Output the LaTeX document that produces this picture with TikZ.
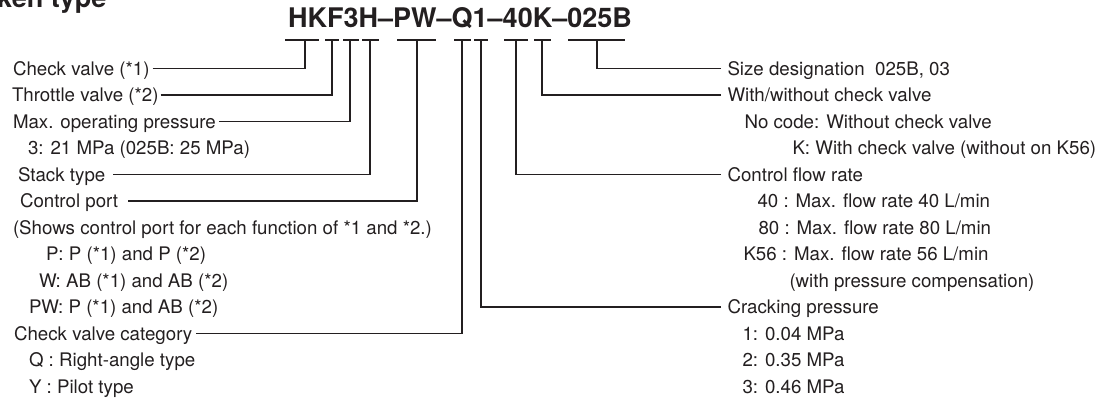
\documentclass[tikz,border=0pt]{standalone}
\usepackage{fontspec}
\setmainfont{TeX Gyre Heros}
\definecolor{ink}{HTML}{231F20}
\begin{document}
\begin{tikzpicture}[x=1bp,y=-1bp,
  every node/.style={text=ink},
  lbl/.style={anchor=west,inner sep=0pt,outer xsep=3bp,text height=13.4bp,text depth=0pt,
              font=\fontsize{18.7bp}{21bp}\selectfont},
  rlbl/.style={lbl,outer xsep=6.5bp},
  code/.style={anchor=base west,inner sep=0pt,font=\bfseries\fontsize{27bp}{27bp}\selectfont},
  uline/.style={draw=ink,line width=1.1bp},
  conn/.style={draw=ink,line width=1.1bp}]
\useasboundingbox (0,0) rectangle (1113,401);
% cropped heading
\node[code] (head) at (-3,7) {ken type};
% model code
\node[code] (model) at (288,27) {HKF3H\textendash PW\textendash Q1\textendash 40K\textendash 025B};
% underlines
\draw[uline] (285,40) -- (319,40);
\draw[uline] (325,40) -- (339,40);
\draw[uline] (343,40) -- (359,40);
\draw[uline] (362,40) -- (379,40);
\draw[uline] (397,40) -- (436,40);
\draw[uline] (454,40) -- (471,40);
\draw[uline] (474,40) -- (488,40);
\draw[uline] (504,40) -- (528,40);
\draw[uline] (534,40) -- (551,40);
\draw[uline] (568,40) -- (625,40);
\coordinate (vHK) at (305,40);
\coordinate (vF) at (332,40);
\coordinate (v3) at (350,40);
\coordinate (vH) at (370,40);
\coordinate (vPW) at (417,40);
\coordinate (vQ) at (462,40);
\coordinate (v1) at (481,40);
\coordinate (v40) at (516,40);
\coordinate (vK) at (542,40);
\coordinate (v025) at (597,40);
% left column
\node[lbl] (l0) at (10,68.5) {Check valve (*1)};
\node[lbl,outer xsep=2bp] (l1) at (10,95) {Throttle valve (*2)};
\node[lbl] (l2) at (10,121.5) {Max. operating pressure};
\node[lbl] (l3) at (25,148) {3: 21 MPa (025B: 25 MPa)};
\node[lbl,outer xsep=8bp] (l4) at (10,174.5) {Stack type};
\node[lbl,outer xsep=10bp] (l5) at (10,201) {Control port};
\node[lbl] (l6) at (10,227.5) {(Shows control port for each function of *1 and *2.)};
\node[lbl] (l7) at (43,254) {P: P (*1) and P (*2)};
\node[lbl] (l8) at (36,280.5) {W: AB (*1) and AB (*2)};
\node[lbl] (l9) at (26,307) {PW: P (*1) and AB (*2)};
\node[lbl,outer xsep=4bp] (l10) at (10,333.5) {Check valve category};
\node[lbl] (l11) at (26,360) {Q : Right-angle type};
\node[lbl] (l12) at (26,386.5) {Y : Pilot type};
% right column
\node[rlbl] (r0) at (721,68.5) {Size designation\ \ 025B, 03};
\node[rlbl] (r1) at (721,95) {With/without check valve};
\node[rlbl] (r2) at (738,121.5) {No code: Without check valve};
\node[rlbl] (r3) at (786,148) {K: With check valve (without on K56)};
\node[rlbl] (r4) at (721,174.5) {Control flow rate};
\node[rlbl] (r5) at (751,201) {40 : Max. flow rate 40 L/min};
\node[rlbl] (r6) at (752,227.5) {80 : Max. flow rate 80 L/min};
\node[rlbl] (r7) at (737,254) {K56 : Max. flow rate 56 L/min};
\node[rlbl] (r8) at (783,280.5) {(with pressure compensation)};
\node[rlbl] (r9) at (721,307) {Cracking pressure};
\node[rlbl] (r10) at (736,333.5) {1: 0.04 MPa};
\node[rlbl] (r11) at (736,360) {2: 0.35 MPa};
\node[rlbl] (r12) at (736,386.5) {3: 0.46 MPa};
% connectors
\draw[conn] (l0.east) -| (vHK);
\draw[conn] (l1.east) -| (vF);
\draw[conn] (l2.east) -| (v3);
\draw[conn] (l4.east) -| (vH);
\draw[conn] (l5.east) -| (vPW);
\draw[conn] (l10.east) -| (vQ);
\draw[conn] (r0.west) -| (v025);
\draw[conn] (r1.west) -| (vK);
\draw[conn] (r4.west) -| (v40);
\draw[conn] (r9.west) -| (v1);
\end{tikzpicture}
\end{document}
